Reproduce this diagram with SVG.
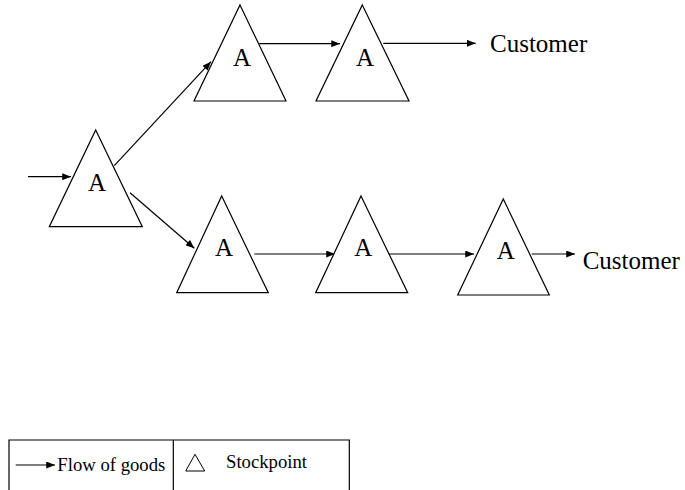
<svg xmlns="http://www.w3.org/2000/svg" width="685" height="490" viewBox="0 0 685 490">
  <style>
    .tri { fill: #fff; stroke: #000; stroke-width: 1.2; }
    .flow { stroke: #000; stroke-width: 1.2; fill: none; marker-end: url(#head); }
    .lbl { font-family: "Liberation Serif", "Times New Roman", serif; font-size: 25px; fill: #000; text-anchor: middle; }
    .cust { font-family: "Liberation Serif", "Times New Roman", serif; font-size: 25px; fill: #000; }
    .leg { font-family: "Liberation Serif", "Times New Roman", serif; font-size: 18.7px; fill: #000; }
  </style>
  <defs>
    <marker id="head" viewBox="0 0 10 8" refX="10" refY="4" markerWidth="9" markerHeight="7" markerUnits="userSpaceOnUse" orient="auto">
      <path d="M0,0 L10,4 L0,8 z" fill="#000"/>
    </marker>
  </defs>

  <!-- connectors -->
  <g id="connectors">
    <line class="flow" x1="28" y1="176.7" x2="71" y2="176.7"/>
    <line class="flow" x1="114.3" y1="165.7" x2="211" y2="61.7"/>
    <line class="flow" x1="130" y1="192.7" x2="194.3" y2="248.3"/>
    <line class="flow" x1="259.3" y1="43.7" x2="340" y2="43.7"/>
    <line class="flow" x1="383.3" y1="43.3" x2="475.7" y2="43.3"/>
    <line class="flow" x1="254.3" y1="254" x2="335" y2="254"/>
    <line class="flow" x1="387.7" y1="254" x2="474" y2="254"/>
    <line class="flow" x1="531.7" y1="254" x2="575" y2="254"/>
  </g>

  <!-- stockpoints -->
  <g id="sp-source">
    <polygon class="tri" points="95.7,130 142.3,226.7 49.3,226.7"/>
    <text class="lbl" x="97" y="191">A</text>
  </g>
  <g id="sp-upper-1">
    <polygon class="tri" points="240,5 286,101 194,101"/>
    <text class="lbl" x="242" y="66">A</text>
  </g>
  <g id="sp-upper-2">
    <polygon class="tri" points="362.3,5 409,101 316,101"/>
    <text class="lbl" x="365" y="66">A</text>
  </g>
  <g id="sp-lower-1">
    <polygon class="tri" points="221.7,196 268.3,292.7 176.7,292.7"/>
    <text class="lbl" x="224" y="256">A</text>
  </g>
  <g id="sp-lower-2">
    <polygon class="tri" points="361,196 407.7,292.7 315.7,292.7"/>
    <text class="lbl" x="363.3" y="256">A</text>
  </g>
  <g id="sp-lower-3">
    <polygon class="tri" points="503.3,199 549.3,295 457.7,295"/>
    <text class="lbl" x="505.7" y="259">A</text>
  </g>

  <!-- customers -->
  <g id="customer-upper">
    <text class="cust" x="490" y="51.7">Customer</text>
  </g>
  <g id="customer-lower">
    <text class="cust" x="582.7" y="269.3">Customer</text>
  </g>

  <!-- legend -->
  <g id="legend">
    <path d="M9,490 V440 H349.3 V490 M173.3,440 V490" fill="none" stroke="#000" stroke-width="1.2"/>
    <line class="flow" x1="15.7" y1="465" x2="55" y2="465"/>
    <text class="leg" x="57.3" y="471">Flow of goods</text>
    <polygon points="195,454.3 204.7,471 185.7,471" fill="#fff" stroke="#000" stroke-width="1"/>
    <text class="leg" x="226" y="468.3">Stockpoint</text>
  </g>
</svg>
